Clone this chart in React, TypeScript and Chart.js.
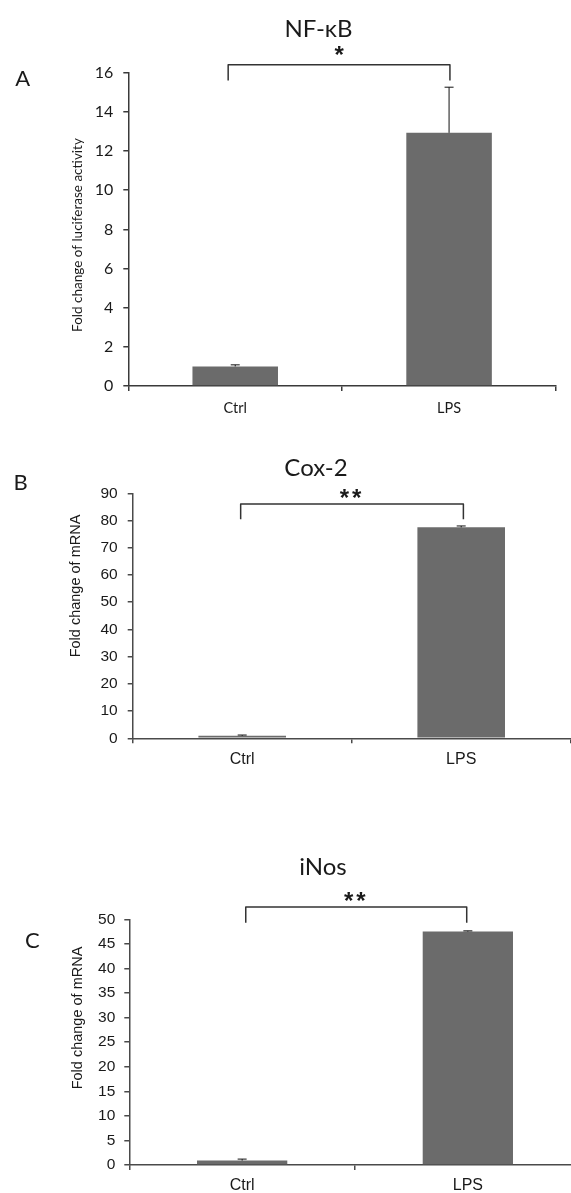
import React, { useEffect, useRef } from "react";
import { Chart, registerables } from "chart.js";

Chart.register(...registerables);

// ---------- data ----------
const categories = ["Ctrl", "LPS"];

const nfkbValues = [1.0, 12.93];
const nfkbErrors = [0.08, 2.33];
const cox2Values = [0.9, 77.5];
const cox2Errors = [0.3, 0.5];
const inosValues = [0.9, 47.5];
const inosErrors = [0.3, 0.15];

const panelLetters = ["A", "B", "C"];
const panelTitles = ["NF-κB", "Cox-2", "iNos"];
const yAxisTitles = [
  "Fold change of luciferase activity",
  "Fold change of mRNA",
  "Fold change of mRNA",
];
const yMaxes = [16, 90, 50];
const yStepSizes = [2, 10, 5];
const significanceMarks = ["*", "**", "**"];
const bracketTops = [16.4, 86.1, 52.5];
const bracketLegEnds = [15.6, 80.5, 49.3];
const bracketStarts = [-0.033, -0.007, 0.016];
const bracketEnds = [1.004, 1.01, 0.995];

const seriesValues = [nfkbValues, cox2Values, inosValues];
const seriesErrors = [nfkbErrors, cox2Errors, inosErrors];

// ---------- layout / style (page pixels) ----------
type Layout = {
  top: number;
  height: number;
  width: number;
  axisLeft: number;
  padRight: number;
  plotTop: number;
  plotBottom: number;
  axisFamily: string;
  tickSize: number;
  xLabelSize: number;
  yPad: number;
  xPad: number;
  yTitleFont: string;
  titlePos: [number, number];
  letterPos: [number, number];
  yTitlePos: [number, number];
  starFont: string;
  starSpacing: string;
  starGap: number;
  axisColor: string;
};

const layouts: Layout[] = [
  {
    top: 0, height: 425, width: 571, axisLeft: 128.3, padRight: 15,
    plotTop: 72.7, plotBottom: 386,
    axisFamily: "Lato", tickSize: 16, xLabelSize: 14.5, yPad: 10, xPad: 9,
    yTitleFont: "13.5px Lato",
    titlePos: [318.5, 29], letterPos: [22.7, 79.3], yTitlePos: [78, 235],
    starFont: "bold 24px 'Liberation Sans', Arial", starSpacing: "0px", starGap: 12, axisColor: "#3a3a3a",
  },
  {
    top: 420, height: 360, width: 600, axisLeft: 132.7, padRight: 29.3,
    plotTop: 493.3, plotBottom: 738.3,
    axisFamily: "'Liberation Sans', Arial", tickSize: 15.5, xLabelSize: 16, yPad: 10, xPad: 7,
    yTitleFont: "14.5px 'Liberation Sans', Arial",
    titlePos: [316, 468], letterPos: [20.7, 483.3], yTitlePos: [76.4, 586],
    starFont: "bold 24px 'Liberation Sans', Arial", starSpacing: "3px", starGap: 9, axisColor: "#4a4a4a",
  },
  {
    top: 800, height: 393, width: 600, axisLeft: 129.3, padRight: 19.3,
    plotTop: 919.3, plotBottom: 1165,
    axisFamily: "'Liberation Sans', Arial", tickSize: 15.5, xLabelSize: 16, yPad: 9, xPad: 6,
    yTitleFont: "14.5px 'Liberation Sans', Arial",
    titlePos: [323, 867], letterPos: [32.3, 940.7], yTitlePos: [78.3, 1018],
    starFont: "bold 24px 'Liberation Sans', Arial", starSpacing: "3px", starGap: 9, axisColor: "#4a4a4a",
  },
];

const BAR_COLOR = "#6b6b6b";
const TEXT_COLOR = "#1a1a1a";

function makeOverlay(idx: number) {
  const L = layouts[idx];
  return {
    id: "overlay" + idx,
    afterDatasetsDraw(chart: any) {
      const ctx = chart.ctx as CanvasRenderingContext2D;
      const xs = chart.scales.x;
      const ys = chart.scales.y;
      const vals = seriesValues[idx];
      const errs = seriesErrors[idx];
      ctx.save();
      ctx.strokeStyle = "#111";
      ctx.lineWidth = 1;
      for (let i = 0; i < vals.length; i++) {
        const x = xs.getPixelForValue(i);
        const y0 = ys.getPixelForValue(vals[i]);
        const y1 = ys.getPixelForValue(vals[i] + errs[i]);
        ctx.beginPath();
        ctx.moveTo(x, y0);
        ctx.lineTo(x, y1);
        ctx.moveTo(x - 4.5, y1);
        ctx.lineTo(x + 4.5, y1);
        ctx.stroke();
      }
      ctx.restore();
    },
    afterDraw(chart: any) {
      const ctx = chart.ctx as CanvasRenderingContext2D;
      const xs = chart.scales.x;
      const ys = chart.scales.y;
      ctx.save();
      // bracket
      const xl = xs.getPixelForValue(bracketStarts[idx]);
      const xr = xs.getPixelForValue(bracketEnds[idx]);
      const yt = ys.getPixelForValue(bracketTops[idx]);
      const yl = ys.getPixelForValue(bracketLegEnds[idx]);
      ctx.strokeStyle = "#333";
      ctx.lineWidth = 1.5;
      ctx.lineJoin = "round";
      ctx.beginPath();
      ctx.moveTo(xl, yl);
      ctx.lineTo(xl, yt);
      ctx.lineTo(xr, yt);
      ctx.lineTo(xr, yl);
      ctx.stroke();
      // significance mark
      ctx.fillStyle = TEXT_COLOR;
      ctx.font = L.starFont;
      (ctx as any).letterSpacing = L.starSpacing;
      ctx.textAlign = "center";
      ctx.textBaseline = "middle";
      ctx.fillText(significanceMarks[idx], (xl + xr) / 2, yt - L.starGap + 4);
      (ctx as any).letterSpacing = "0px";
      // title
      ctx.font = "24px Lato";
      ctx.textBaseline = "middle";
      ctx.fillText(panelTitles[idx], L.titlePos[0], L.titlePos[1] - L.top);
      // letter
      ctx.font = "22px Lato";
      ctx.fillText(panelLetters[idx], L.letterPos[0], L.letterPos[1] - L.top);
      // y-axis title
      ctx.font = L.yTitleFont;
      ctx.translate(L.yTitlePos[0], L.yTitlePos[1] - L.top);
      ctx.rotate(-Math.PI / 2);
      ctx.fillText(yAxisTitles[idx], 0, 0);
      ctx.restore();
    },
  };
}

function Panel({ idx }: { idx: number }) {
  const ref = useRef<HTMLCanvasElement | null>(null);
  const L = layouts[idx];
  useEffect(() => {
    if (!ref.current) return;
    const chart = new Chart(ref.current, {
      type: "bar",
      data: {
        labels: categories,
        datasets: [
          {
            data: seriesValues[idx],
            backgroundColor: BAR_COLOR,
            borderWidth: 0,
            categoryPercentage: 1,
            barPercentage: 0.4,
          },
        ],
      },
      options: {
        responsive: false,
        animation: false,
        devicePixelRatio: 1,
        events: [],
        layout: {
          padding: { top: L.plotTop - L.top, right: L.padRight, bottom: 0, left: 0 },
        },
        plugins: {
          legend: { display: false },
          title: { display: false },
          tooltip: { enabled: false },
        },
        scales: {
          x: {
            grid: {
              drawOnChartArea: false,
              drawTicks: true,
              tickLength: 5,
              color: L.axisColor,
              lineWidth: 1.5,
              offset: true,
            },
            border: { display: true, color: L.axisColor, width: 1.5 },
            ticks: {
              color: TEXT_COLOR,
              font: { family: L.axisFamily, size: L.xLabelSize },
              padding: L.xPad,
              maxRotation: 0,
              autoSkip: false,
            },
            afterFit: (s: any) => {
              s.height = L.height - (L.plotBottom - L.top);
            },
          },
          y: {
            min: 0,
            max: yMaxes[idx],
            ticks: {
              stepSize: yStepSizes[idx],
              color: TEXT_COLOR,
              font: { family: L.axisFamily, size: L.tickSize },
              padding: L.yPad,
            },
            grid: {
              drawOnChartArea: false,
              drawTicks: true,
              tickLength: 5,
              color: L.axisColor,
              lineWidth: 1.5,
            },
            border: { display: true, color: L.axisColor, width: 1.5 },
            afterFit: (s: any) => {
              s.width = L.axisLeft;
            },
          },
        },
      } as any,
      plugins: [makeOverlay(idx)],
    });
    return () => chart.destroy();
  }, [idx]);
  return (
    <canvas
      ref={ref}
      width={L.width}
      height={L.height}
      style={{
        position: "absolute",
        left: 0,
        top: L.top,
        width: L.width,
        height: L.height,
      }}
    />
  );
}

export default function App() {
  useEffect(() => {
    document.body.style.margin = "0";
    document.body.style.overflow = "hidden";
  }, []);
  return (
    <div
      style={{
        position: "relative",
        width: 571,
        height: 1193,
        overflow: "hidden",
        background: "#fff",
      }}
    >
      {layouts.map((_, i) => (
        <Panel key={i} idx={i} />
      ))}
    </div>
  );
}
